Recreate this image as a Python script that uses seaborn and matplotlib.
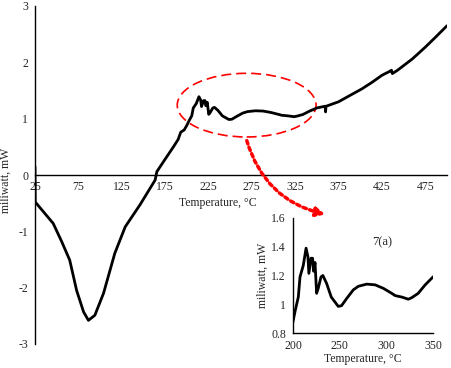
import numpy as np
import pandas as pd
import seaborn as sns
import matplotlib.pyplot as plt
from matplotlib.patches import Ellipse, FancyArrowPatch

# DSC curve: temperature (°C) and heat flow (mW)
temperature = [25, 25.3, 34.6, 46, 56, 65, 73, 81, 86.6, 94, 104, 117, 129, 146,
               163.5, 165.5, 175, 184.6, 190, 193, 195, 197,
               200, 202.5, 205.7, 207.5, 211, 214, 216, 217, 219.3, 221, 222,
               223.6, 225.3, 227, 230, 232, 236, 241, 248.5, 252, 257.5, 264.6,
               270, 279, 288, 297, 306, 309.5, 316.6, 323.6, 327, 334, 341.5,
               350, 356, 359.5, 360, 360.5, 366, 375, 389, 402, 414, 425, 434,
               436, 437, 443, 460, 475, 487, 500]
milliwatt = [0.15, -0.48, -0.65, -0.86, -1.19, -1.51, -2.05, -2.43, -2.58, -2.49,
             -2.1, -1.39, -0.92, -0.53,
             -0.09, 0.06, 0.28, 0.5, 0.63, 0.76, 0.78, 0.8,
             0.88, 0.96, 1.05, 1.19, 1.27, 1.39, 1.33, 1.215, 1.32, 1.32, 1.23,
             1.29, 1.076, 1.11, 1.19, 1.20, 1.145, 1.05, 0.985, 0.99, 1.04, 1.10,
             1.125, 1.14, 1.135, 1.11, 1.075, 1.06, 1.05, 1.035, 1.045, 1.075,
             1.134, 1.19, 1.21, 1.22, 1.12, 1.22, 1.25, 1.30, 1.42, 1.53, 1.65,
             1.77, 1.84, 1.86, 1.80, 1.86, 2.06, 2.27, 2.45, 2.65]

main_xticks = [25, 75, 125, 175, 225, 275, 325, 375, 425, 475]
main_yticks = [-3, -2, -1, 0, 1, 2, 3]
inset_xticks = [200, 250, 300, 350]
inset_yticks = [0.8, 1.0, 1.2, 1.4, 1.6]
inset_ylabels = ['0.8', '1', '1.2', '1.4', '1.6']

df = pd.DataFrame({'T': temperature, 'mW': milliwatt})

sns.set_style('white')
plt.rcParams['font.family'] = ['Liberation Serif', 'DejaVu Serif']
plt.rcParams['font.size'] = 8.5
plt.rcParams['axes.unicode_minus'] = False

fig = plt.figure(figsize=(4.51, 3.68), dpi=100)
ax = fig.add_axes([35 / 451, 1 - 344 / 368, 412 / 451, 338 / 368])
sns.lineplot(data=df, x='T', y='mW', ax=ax, color='black', lw=2,
             sort=False, estimator=None)
ax.set_xlim(25, 500)
ax.set_ylim(-3, 3)
ax.set_xticks(main_xticks)
ax.set_yticks(main_yticks)
for s in ['top', 'right']:
    ax.spines[s].set_visible(False)
ax.spines['bottom'].set_position(('data', 0))
for s in ['left', 'bottom']:
    ax.spines[s].set_color('black')
    ax.spines[s].set_linewidth(1)
ax.tick_params(axis='x', direction='inout', length=6, width=1, pad=1)
ax.tick_params(axis='y', direction='out', length=3, width=1, pad=2)
ax.set_xlabel('Temperature, °C')
ax.xaxis.set_label_coords(0.444, 0.435)
ax.set_ylabel('miliwatt, mW')
ax.yaxis.set_label_coords(-0.056, 0.485)

# highlight of the zoomed region
ax.add_patch(Ellipse((269, 1.24), 160, 1.13, fill=False, ec='red', lw=1.2,
                     ls=(0, (6, 3))))
arrow = FancyArrowPatch((246 / 451, 1 - 138 / 368), (328 / 451, 1 - 215 / 368),
                        transform=fig.transFigure, connectionstyle='arc3,rad=0.3',
                        arrowstyle='-|>', mutation_scale=13, color='red',
                        lw=2.5, ls=(0, (1, 1)))
fig.patches.append(arrow)

# inset
ins = fig.add_axes([293 / 451, 1 - 333 / 368, 140 / 451, 115 / 368])
ins.patch.set_alpha(0)
sns.lineplot(data=df, x='T', y='mW', ax=ins, color='black', lw=2,
             sort=False, estimator=None)
ins.set_xlim(200, 350)
ins.set_ylim(0.8, 1.6)
ins.set_xticks(inset_xticks)
ins.set_yticks(inset_yticks)
ins.set_yticklabels(inset_ylabels)
for s in ['top', 'right']:
    ins.spines[s].set_visible(False)
for s in ['left', 'bottom']:
    ins.spines[s].set_color('black')
    ins.spines[s].set_linewidth(1)
ins.tick_params(direction='out', length=3, width=1, pad=2)
ins.set_xlabel('Temperature, °C', labelpad=1)
ins.set_ylabel('miliwatt, mW', labelpad=2)
ins.text(296, 1.433, '7(a)', ha='center', va='center', fontsize=9)

fig.savefig('out.png', dpi=100)
